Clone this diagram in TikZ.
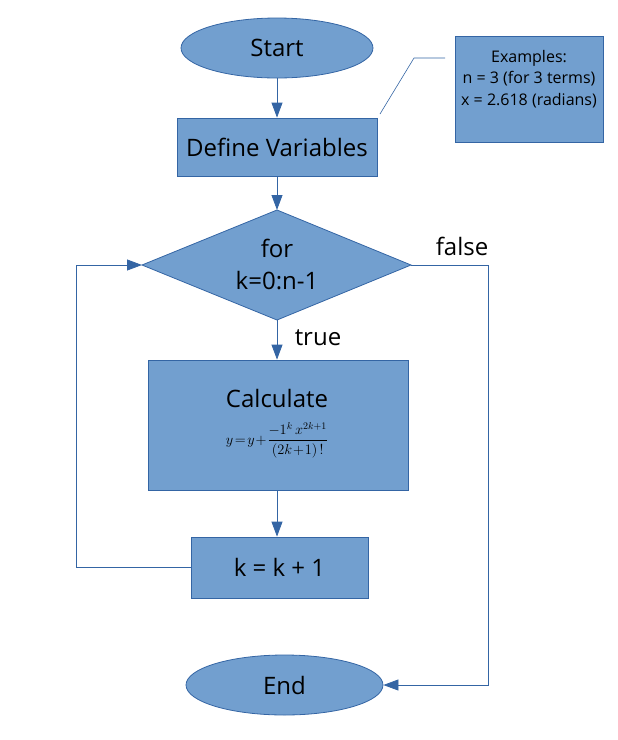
\documentclass[tikz,border=0pt]{standalone}
\usepackage{fontspec}
\setmainfont{Open Sans}
\usetikzlibrary{arrows.meta,shapes.geometric}
\definecolor{boxfill}{HTML}{729FCF}
\definecolor{boxline}{HTML}{3465A4}
\tikzset{
  shp/.style={fill=boxfill, draw=boxline, line width=0.8pt, inner sep=0pt, font=\fontsize{24}{28}\selectfont, text=black, align=center},
  ell/.style={shp, ellipse},
  rectbox/.style={shp, rectangle},
  conn/.style={draw=boxline, line width=0.8pt},
  arr/.style={conn, -{Triangle[length=15pt,width=11pt]}},
  lbl/.style={font=\fontsize{24}{28}\selectfont, text=black},
}
\begin{document}
\begin{tikzpicture}[x=1pt,y=-1pt]
\useasboundingbox (0,0) rectangle (618,740);
\node[ell, minimum width=192, minimum height=60] (start) at (277,48) {Start};
\node[rectbox, minimum width=200, minimum height=58] (def) at (277,147) {Define Variables};
\node[rectbox, minimum width=148, minimum height=106, anchor=north west] (ex) at (455,36) {};
\node[font=\fontsize{16}{21.5}\selectfont, align=center] (extext) at (529,79) {Examples:\\n = 3 (for 3 terms)\\x = 2.618 (radians)};
\coordinate (c1) at (380,114);
\coordinate (c2) at (414,58);
\coordinate (c3) at (445,58);
\draw[conn, line width=0.6pt] (c1) -- (c2) -- (c3);
\coordinate (dtop) at (277,210);
\coordinate (dleft) at (142,265);
\coordinate (dright) at (411,265);
\coordinate (dbot) at (277,320);
\draw[fill=boxfill, draw=boxline, line width=0.8pt] (dtop) -- (dright) -- (dbot) -- (dleft) -- cycle;
\node[font=\fontsize{24}{32}\selectfont, align=center] (fortext) at (277,264) {for\\k=0:n-1};
\node[rectbox, minimum width=260, minimum height=130] (calc) at (278,425) {};
\node[lbl] (calctext) at (277,398) {Calculate};
\node (formula) at (277,440) {\fontsize{14}{16}\selectfont$\displaystyle y\!=\!y\!+\!\frac{-1^{k}\,x^{2k+1}}{(2k\!+\!1)\,!}$};
\node[rectbox, minimum width=177, minimum height=61] (kinc) at (279.5,567.5) {k = k + 1};
\node[ell, minimum width=197, minimum height=60] (end) at (284.5,685) {End};
\node[lbl] (truelbl) at (318,338) {true};
\node[lbl] (falselbl) at (462,246) {false};
\coordinate (lp1) at (76,567.5);
\coordinate (lp2) at (76,265);
\coordinate (fp1) at (488,265);
\coordinate (fp2) at (488,685);
\draw[arr] (start.south) -- (def.north);
\draw[arr] (def.south) -- (dtop);
\draw[arr] (dbot) -- (calc.north -| dbot);
\draw[arr] (calc.south -| dbot) -- (kinc.north -| dbot);
\draw[arr] (kinc.west) -- (lp1) -- (lp2) -- (dleft);
\draw[arr] (dright) -- (fp1) -- (fp2) -- (end.east);
\end{tikzpicture}
\end{document}
